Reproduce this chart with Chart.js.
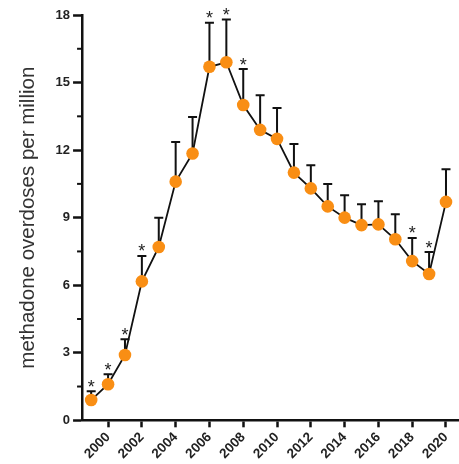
<!DOCTYPE html>
<html>
<head>
<meta charset="utf-8">
<script src="https://cdn.jsdelivr.net/npm/chart.js@4/dist/chart.umd.min.js"></script>
<style>
  html, body { margin: 0; padding: 0; background: #fff; }
  #wrap { width: 459px; height: 464px; }
</style>
</head>
<body>
<div id="wrap"><canvas id="chart"></canvas></div>
<script>
// values
const years = [1999, 2000, 2001, 2002, 2003, 2004, 2005, 2006, 2007, 2008, 2009,
               2010, 2011, 2012, 2013, 2014, 2015, 2016, 2017, 2018, 2019, 2020];
const rates = [0.9, 1.6, 2.9, 6.17, 7.7, 10.6, 11.85, 15.7, 15.9, 14.0, 12.9,
               12.5, 11.0, 10.3, 9.5, 9.0, 8.67, 8.7, 8.04, 7.07, 6.5, 9.7];
const upperErr = [1.29, 2.04, 3.6, 7.3, 9.0, 12.36, 13.47, 17.66, 17.8, 15.6, 14.44,
                  13.87, 12.27, 11.33, 10.5, 10.0, 9.6, 9.73, 9.15, 8.1, 7.47, 11.15];
const starredYears = [1999, 2000, 2001, 2002, 2006, 2007, 2008, 2018, 2019];
const yTicks = [0, 3, 6, 9, 12, 15, 18];
const yMinorTicks = [1.5, 4.5, 7.5, 10.5, 13.5, 16.5];
const xTicks = [2000, 2002, 2004, 2006, 2008, 2010, 2012, 2014, 2016, 2018, 2020];

const FONT = "'Liberation Sans', Arial, sans-serif";

// error bars (upper only), asterisks and minor y ticks
const errorBarPlugin = {
    id: 'errorBars',
    beforeDatasetsDraw(chart) {
        const ctx = chart.ctx;
        const xs = chart.scales.x, ys = chart.scales.y;
        ctx.save();
        ctx.strokeStyle = '#111';
        ctx.lineWidth = 2;
        years.forEach((yr, i) => {
            const px = xs.getPixelForValue(yr);
            const p0 = ys.getPixelForValue(rates[i]);
            const p1 = ys.getPixelForValue(upperErr[i]);
            ctx.beginPath();
            ctx.moveTo(px, p0);
            ctx.lineTo(px, p1);
            ctx.moveTo(px - 4.5, p1);
            ctx.lineTo(px + 4.5, p1);
            ctx.stroke();
        });
        ctx.restore();
    },
    afterDraw(chart) {
        const ctx = chart.ctx;
        const xs = chart.scales.x, ys = chart.scales.y;
        ctx.save();
        ctx.fillStyle = '#222';
        ctx.font = '18px ' + FONT;
        ctx.textAlign = 'center';
        ctx.textBaseline = 'alphabetic';
        const m = ctx.measureText('*');
        const mid = (m.actualBoundingBoxDescent - m.actualBoundingBoxAscent) / 2;
        starredYears.forEach(yr => {
            const i = years.indexOf(yr);
            const px = xs.getPixelForValue(yr);
            const cap = ys.getPixelForValue(upperErr[i]);
            ctx.fillText('*', px, cap - 8 - mid);
        });
        ctx.strokeStyle = '#111';
        ctx.lineWidth = 2;
        const left = chart.chartArea.left;
        yMinorTicks.forEach(v => {
            const py = ys.getPixelForValue(v);
            ctx.beginPath();
            ctx.moveTo(left - 5, py);
            ctx.lineTo(left, py);
            ctx.stroke();
        });
        ctx.restore();
    }
};

new Chart(document.getElementById('chart'), {
    type: 'line',
    data: {
        datasets: [{
            data: years.map((yr, i) => ({ x: yr, y: rates[i] })),
            borderColor: '#111',
            borderWidth: 1.8,
            pointRadius: 6.3,
            pointBackgroundColor: '#F98E14',
            pointBorderColor: '#F98E14',
            pointBorderWidth: 0,
            tension: 0,
            fill: false,
            clip: false
        }]
    },
    options: {
        responsive: true,
        maintainAspectRatio: false,
        animation: false,
        layout: { autoPadding: false, padding: { top: 15, right: 0, left: 16, bottom: 0 } },
        plugins: {
            legend: { display: false },
            tooltip: { enabled: false }
        },
        scales: {
            x: {
                type: 'linear',
                min: 1998.46,
                max: 2020.77,
                afterBuildTicks: axis => { axis.ticks = xTicks.map(v => ({ value: v })); },
                afterFit: axis => { axis.paddingRight = 0; },
                border: { display: true, color: '#111', width: 2.5 },
                grid: { display: true, drawOnChartArea: false, drawTicks: true, tickLength: 7, tickColor: '#111', tickWidth: 2.5 },
                ticks: {
                    color: '#222',
                    font: { family: FONT, size: 13.5, weight: 'bold' },
                    maxRotation: 45,
                    minRotation: 45,
                    padding: 2,
                    callback: v => String(v)
                }
            },
            y: {
                min: 0,
                max: 18,
                afterBuildTicks: axis => { axis.ticks = yTicks.map(v => ({ value: v })); },
                border: { display: true, color: '#111', width: 2.5 },
                grid: { display: true, drawOnChartArea: false, drawTicks: true, tickLength: 9, tickColor: '#111', tickWidth: 2.5 },
                ticks: {
                    color: '#222',
                    font: { family: FONT, size: 13, weight: 'bold' },
                    padding: 3
                },
                title: {
                    display: true,
                    text: 'methadone overdoses per million',
                    color: '#333',
                    font: { family: FONT, size: 20.5 },
                    padding: { top: 0, bottom: 12 }
                }
            }
        }
    },
    plugins: [errorBarPlugin]
});
</script>
</body>
</html>
